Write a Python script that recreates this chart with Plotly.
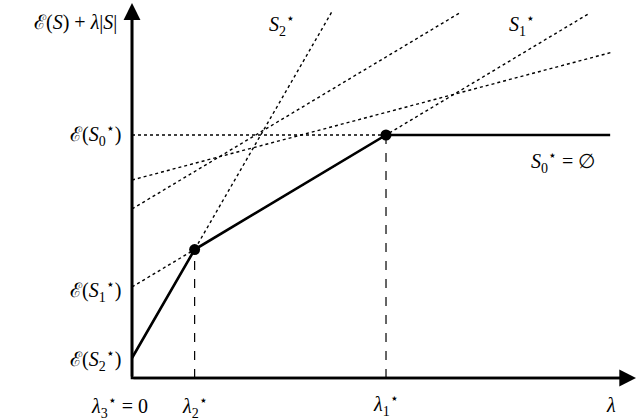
import plotly.graph_objects as go

# --- data (schematic: E(S) + lambda*|S| for several sets) ---
set_names = ["S0", "S1", "S2", "A", "B"]
energy = [12.15, 4.55, 1.0, 9.9, 8.45]      # E(S) = intercept at lambda = 0
card = [0.0, 1.9, 5.5, 0.845, 1.9]          # |S| = slope
lam_end = [7.53, 7.2, 3.15, 7.57, 5.17]     # extent of each line along lambda
lam_max = 7.94
y_max = 18.75

E0, E1, E2 = energy[0], energy[1], energy[2]
m0, m1, m2 = card[0], card[1], card[2]
lam2 = (E1 - E2) / (m2 - m1)
lam1 = (E0 - E1) / (m1 - m0)

def val(i, lam):
    return energy[i] + card[i] * lam

fig = go.Figure()

dot = dict(color="black", width=1.4, dash="dot")
for i in [1, 2, 3, 4]:
    fig.add_trace(go.Scatter(x=[0, lam_end[i]], y=[val(i, 0), val(i, lam_end[i])],
                             mode="lines", line=dot, hoverinfo="skip"))
fig.add_trace(go.Scatter(x=[0, lam1], y=[E0, E0], mode="lines", line=dot, hoverinfo="skip"))
dash = dict(color="black", width=1.2, dash="dash")
for lb, yv in [(lam2, val(1, lam2)), (lam1, E0)]:
    fig.add_trace(go.Scatter(x=[lb, lb], y=[0, yv], mode="lines", line=dash, hoverinfo="skip"))

env_x = [0, lam2, lam1, lam_end[0]]
env_y = [min(val(i, l) for i in [0, 1, 2]) for l in env_x]
fig.add_trace(go.Scatter(x=env_x, y=env_y, mode="lines",
                         line=dict(color="black", width=2.6), hoverinfo="skip"))
fig.add_trace(go.Scatter(x=[lam2, lam1], y=[val(1, lam2), E0], mode="markers",
                         marker=dict(color="black", size=11), hoverinfo="skip"))

for (tx, ty) in [(lam_max, 0), (0, y_max)]:
    fig.add_annotation(x=tx, y=ty, ax=0, ay=0, xref="x", yref="y", axref="x", ayref="y",
                       text="", showarrow=True, arrowhead=2, arrowsize=1.3,
                       arrowwidth=2.6, arrowcolor="black", standoff=0, startstandoff=0)
fig.add_trace(go.Scatter(x=[0, 0, lam_max - 0.2], y=[y_max - 0.5, 0, 0], mode="lines",
                         line=dict(color="black", width=2.6), hoverinfo="skip"))

F = dict(family="Liberation Serif, DejaVu Serif, serif", size=20, color="black")

def label(x, y, text, xanchor="center", xshift=0, yshift=0):
    fig.add_annotation(x=x, y=y, xref="x", yref="y", text=text, showarrow=False,
                       xanchor=xanchor, yanchor="middle", xshift=xshift, yshift=yshift, font=F)

label(-0.2, 17.8, "ℰ(<i>S</i>) + <i>λ</i>|<i>S</i>|", xanchor="right")
label(-0.14, E0, "ℰ(<i>S</i><sub>0</sub><sup>⋆</sup>)", xanchor="right", yshift=0)
label(-0.14, E1, "ℰ(<i>S</i><sub>1</sub><sup>⋆</sup>)", xanchor="right", yshift=-4)
label(-0.14, E2, "ℰ(<i>S</i><sub>2</sub><sup>⋆</sup>)", xanchor="right", yshift=-2)

label(0, 0, "<i>λ</i><sub>3</sub><sup>⋆</sup> = 0", xshift=-13, yshift=-29)
label(lam2, 0, "<i>λ</i><sub>2</sub><sup>⋆</sup>", yshift=-29)
label(lam1, 0, "<i>λ</i><sub>1</sub><sup>⋆</sup>", yshift=-27)
label(7.55, 0, "<i>λ</i>", yshift=-27)

label(2.36, 17.65, "<i>S</i><sub>2</sub><sup>⋆</sup>")
label(6.14, 17.65, "<i>S</i><sub>1</sub><sup>⋆</sup>")
label(6.79, 10.8, "<i>S</i><sub>0</sub><sup>⋆</sup> = ∅")

fig.update_layout(width=636, height=420, margin=dict(l=0, r=0, t=0, b=0),
                  paper_bgcolor="white", plot_bgcolor="white", showlegend=False,
                  xaxis=dict(range=[-2.079, 7.937], visible=False, fixedrange=True),
                  yaxis=dict(range=[-2.1, 18.9], visible=False, fixedrange=True))
fig.write_html("out.html", config={"displayModeBar": False, "staticPlot": True},
               post_script="document.body.style.margin='0';document.body.style.overflow='hidden';")
